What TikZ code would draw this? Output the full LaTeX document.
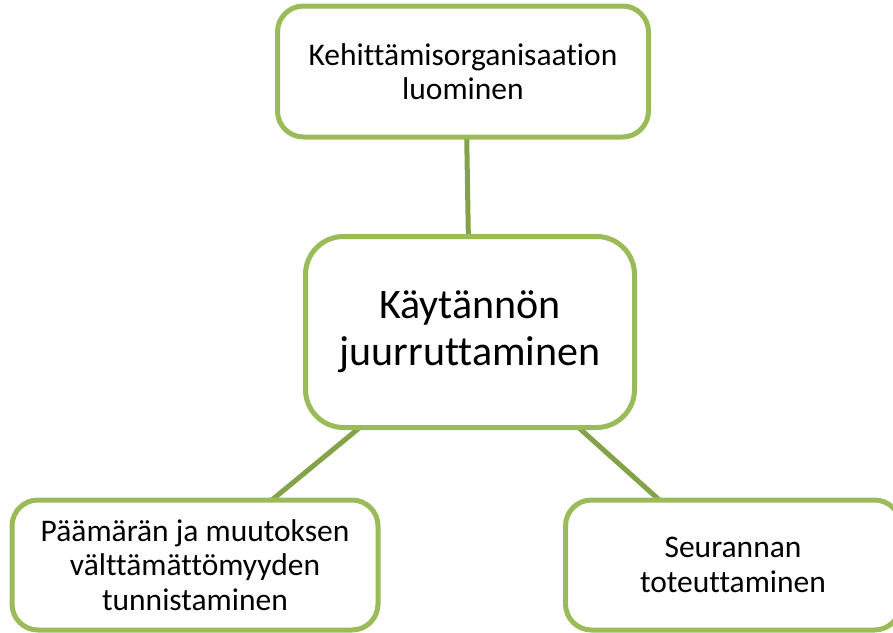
\documentclass[tikz,border=0pt]{standalone}
\usepackage{fontspec}
\setmainfont[Ligatures={NoCommon}]{Carlito}
\usetikzlibrary{calc}
\definecolor{boxgreen}{RGB}{155,187,89}
\definecolor{linegreen}{RGB}{132,162,72}
\pgfdeclarelayer{back}
\pgfsetlayers{back,main}
\tikzset{
  boxstyle/.style={draw=boxgreen, line width=5pt, fill=white, rounded corners=26pt,
    align=center, inner sep=0pt, outer sep=0pt, font=\fontsize{31.5}{34.5}\selectfont},
  bigbox/.style={boxstyle, rounded corners=38pt, font=\fontsize{42}{47}\selectfont},
  conn/.style={draw=linegreen, line width=5pt}
}
\begin{document}
\begin{tikzpicture}[x=1pt,y=-1pt]
\useasboundingbox (0,0) rectangle (893,632);
\node[boxstyle, minimum width=371pt, minimum height=131pt] (top) at (463,71.5)
  {Kehittämisorganisaation\\luominen};
\node[bigbox, minimum width=329pt, minimum height=191pt] (mid) at (470,332)
  {Käytännön\\juurruttaminen};
\node[boxstyle, minimum width=366pt, minimum height=130pt] (bl) at (195,565)
  {Päämärän ja muutoksen\\välttämättömyyden\\tunnistaminen};
\node[boxstyle, minimum width=335pt, minimum height=130pt] (br) at (733,565)
  {Seurannan\\toteuttaminen};
\begin{pgfonlayer}{back}
\draw[conn] ($(top.south west)!0.51!(top.south east)$) -- ($(mid.north west)!0.495!(mid.north east)$);
\draw[conn] ($(mid.south west)!0.165!(mid.south east)$) -- ($(bl.north west)!0.71!(bl.north east)$);
\draw[conn] ($(mid.south west)!0.83!(mid.south east)$) -- ($(br.north west)!0.28!(br.north east)$);
\end{pgfonlayer}
\end{tikzpicture}
\end{document}
